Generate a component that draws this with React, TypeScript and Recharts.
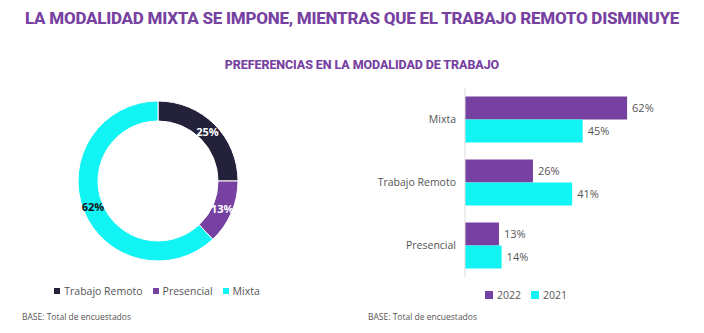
import { PieChart, Pie, Cell, BarChart, Bar, XAxis, YAxis, Legend, LabelList } from "recharts";

const donutNames = ["Trabajo Remoto", "Presencial", "Mixta"];
const donutValues = [25, 13, 62];
const donutColors = ["#24213a", "#7741a1", "#12f3f3"];
const donutLabelColors = ["#ffffff", "#ffffff", "#111111"];

const barCategories = ["Mixta", "Trabajo Remoto", "Presencial"];
const seriesNames = ["2022", "2021"];
const values2022 = [62, 26, 13];
const values2021 = [45, 41, 14];

const PURPLE = "#7741a1";
const CYAN = "#12f3f3";
const FONT = "'Open Sans', sans-serif";
const RADIAN = Math.PI / 180;

const donutData = donutNames.map((name, i) => ({ name, value: donutValues[i] }));
const barData = barCategories.map((name, i) => ({ name, y2022: values2022[i], y2021: values2021[i] }));

function DonutLabel(props: any) {
  const { cx, cy, midAngle, innerRadius, outerRadius, value, index } = props;
  const r = (innerRadius + outerRadius) / 2;
  const x = cx + r * Math.cos(-midAngle * RADIAN);
  const y = cy + r * Math.sin(-midAngle * RADIAN);
  return (
    <text x={x} y={y} textAnchor="middle" dominantBaseline="central"
      fill={donutLabelColors[index]} fontSize={11} fontWeight={700} fontFamily={FONT}>
      {value}%
    </text>
  );
}

const legendText = (v: string) => <span style={{ color: "#555", fontSize: 10.5 }}>{v}</span>;

export default function App() {
  return (
    <div style={{ position: "absolute", left: 0, top: 0, width: 704, height: 333, background: "#fff", fontFamily: FONT }}>
      <div style={{ position: "absolute", top: 8, left: 0, width: 704, textAlign: "center", color: PURPLE, fontWeight: 800, fontSize: 17, letterSpacing: -0.25, fontFamily: "Roboto, sans-serif" }}>
        LA MODALIDAD MIXTA SE IMPONE, MIENTRAS QUE EL TRABAJO REMOTO DISMINUYE
      </div>
      <div style={{ position: "absolute", top: 57, left: 10, width: 704, textAlign: "center", color: PURPLE, fontWeight: 800, fontSize: 12.5, letterSpacing: -0.1, fontFamily: "Roboto, sans-serif" }}>
        PREFERENCIAS EN LA MODALIDAD DE TRABAJO
      </div>

      <div style={{ position: "absolute", left: 0, top: 0 }}>
        <PieChart width={320} height={333}>
          <Pie data={donutData} dataKey="value" nameKey="name" cx={153} cy={176}
            innerRadius={60} outerRadius={80} startAngle={90} endAngle={-270}
            stroke="#fff" strokeWidth={1} label={DonutLabel} labelLine={false} isAnimationActive={false}>
            {donutData.map((d, i) => <Cell key={d.name} fill={donutColors[i]} />)}
          </Pie>
          <Legend iconType="square" iconSize={6} formatter={legendText}
            itemSorter={(item: any) => donutNames.indexOf(item.value)}
            wrapperStyle={{ position: "absolute", top: 278, left: 2, width: 320, fontFamily: FONT }} />
        </PieChart>
      </div>

      <div style={{ position: "absolute", left: 350, top: 0 }}>
        <BarChart width={354} height={333} data={barData} layout="vertical"
          margin={{ top: 88, right: 56, bottom: 34, left: 0 }} barCategoryGap="13.5%" barGap={0}>
          <XAxis type="number" domain={[0, 70]} hide />
          <YAxis type="category" dataKey="name" width={115} axisLine={{ stroke: "#ddd" }} tickLine={false}
            tick={{ fill: "#555", fontSize: 10.5, fontFamily: FONT }} tickMargin={3} />
          <Bar dataKey="y2022" name={seriesNames[0]} fill={PURPLE} isAnimationActive={false}>
            <LabelList dataKey="y2022" position="right" offset={5} formatter={(v: any) => `${v}%`}
              fill="#555" fontSize={11} fontFamily={FONT} />
          </Bar>
          <Bar dataKey="y2021" name={seriesNames[1]} fill={CYAN} isAnimationActive={false}>
            <LabelList dataKey="y2021" position="right" offset={5} formatter={(v: any) => `${v}%`}
              fill="#555" fontSize={11} fontFamily={FONT} />
          </Bar>
          <Legend iconType="square" iconSize={8} formatter={legendText}
            itemSorter={(item: any) => seriesNames.indexOf(item.value)}
            wrapperStyle={{ position: "absolute", top: 282, left: 128, width: 106, fontFamily: FONT }} />
        </BarChart>
      </div>

      <div style={{ position: "absolute", left: 22, top: 311, fontSize: 8.5, color: "#555" }}>BASE: Total de encuestados</div>
      <div style={{ position: "absolute", left: 368, top: 311, fontSize: 8.5, color: "#555" }}>BASE: Total de encuestados</div>
    </div>
  );
}
